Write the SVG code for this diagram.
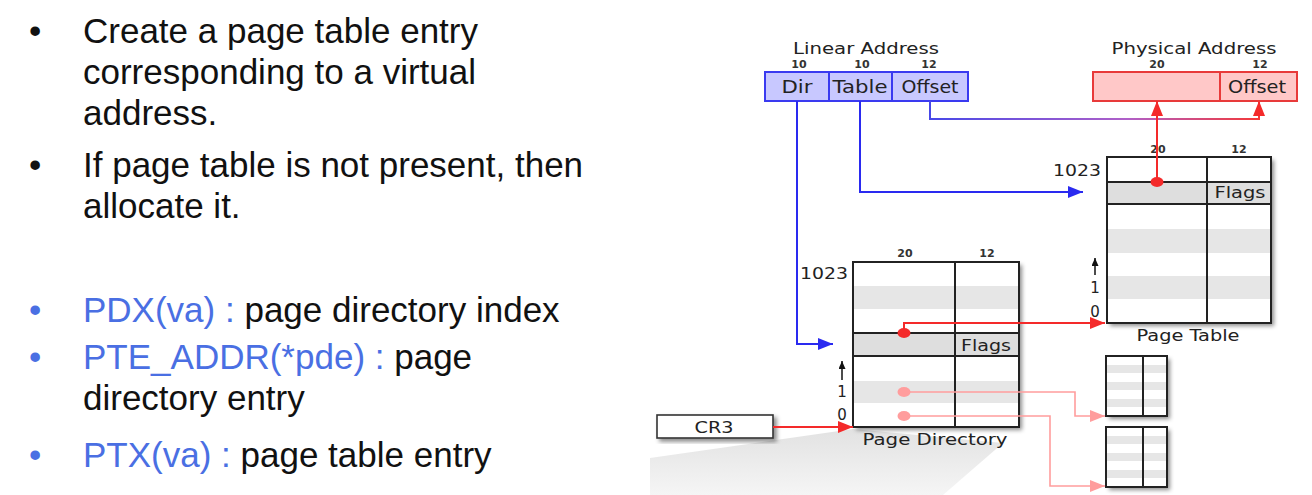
<svg xmlns="http://www.w3.org/2000/svg" width="1312" height="495" viewBox="0 0 1312 495">
<style>
.t{font-family:"Liberation Sans",Arial,sans-serif;font-size:35px;fill:#111}
.b{fill:#4a6fe3}
.d{font-family:"DejaVu Sans","Bitstream Vera Sans",sans-serif;fill:#222}
.n{font-size:11px;font-weight:bold;text-anchor:middle;fill:#333}
.l{font-size:18px;text-anchor:middle}
.m{font-size:16px;text-anchor:middle}
.k{font-size:15px}
.grid{fill:none;stroke:#222;stroke-width:2}
.band{fill:#e6e6e6}
.flag{fill:#dedede}
.blue{fill:none;stroke:#2a2af0;stroke-width:2}
.red{fill:none;stroke:#f42a2a;stroke-width:2}
.pink{fill:none;stroke:#ff9d9d;stroke-width:1.6}
</style>
<defs>
<filter id="sh" x="-15%" y="-15%" width="140%" height="140%">
<feDropShadow dx="3" dy="3" stdDeviation="2" flood-color="#000" flood-opacity="0.45"/>
</filter>
<linearGradient id="shade" x1="0" y1="0" x2="0" y2="1">
<stop offset="0" stop-color="#e2e2e2"/>
<stop offset="1" stop-color="#f5f5f5"/>
</linearGradient>
<linearGradient id="og" gradientUnits="userSpaceOnUse" x1="930" y1="0" x2="1259" y2="0">
<stop offset="0" stop-color="#4848e8"/>
<stop offset="0.6" stop-color="#b060c8"/>
<stop offset="1" stop-color="#f43838"/>
</linearGradient>
<marker id="ab" markerUnits="userSpaceOnUse" markerWidth="16" markerHeight="12" refX="15" refY="6" orient="auto"><path d="M0,0 L15,6 L0,12 z" fill="#2a2af0"/></marker>
<marker id="ar" markerUnits="userSpaceOnUse" markerWidth="16" markerHeight="12" refX="15" refY="6" orient="auto"><path d="M0,0 L15,6 L0,12 z" fill="#f42a2a"/></marker>
<marker id="ap" markerUnits="userSpaceOnUse" markerWidth="16" markerHeight="12" refX="15" refY="6" orient="auto"><path d="M0,0 L15,6 L0,12 z" fill="#ff9d9d"/></marker>
<marker id="ak" markerUnits="userSpaceOnUse" markerWidth="9" markerHeight="8" refX="8" refY="3.5" orient="auto"><path d="M0,0 L8,3.5 L0,7 z" fill="#111"/></marker>
</defs>
<rect width="1312" height="495" fill="#fff"/>

<g id="bullets">
<text class="t" x="29" y="43">•</text>
<text class="t" x="83" y="43">Create a page table entry</text>
<text class="t" x="83" y="84">corresponding to a virtual</text>
<text class="t" x="83" y="125">address.</text>
<text class="t" x="29" y="177">•</text>
<text class="t" x="83" y="177">If page table is not present, then</text>
<text class="t" x="83" y="218">allocate it.</text>
<text class="t b" x="29" y="322">•</text>
<text class="t" x="83" y="322"><tspan class="b">PDX(va) :</tspan> page directory index</text>
<text class="t b" x="29" y="369">•</text>
<text class="t" x="83" y="369"><tspan class="b">PTE_ADDR(*pde) :</tspan> page</text>
<text class="t" x="83" y="410">directory entry</text>
<text class="t b" x="29" y="467">•</text>
<text class="t" x="83" y="467"><tspan class="b">PTX(va) :</tspan> page table entry</text>
</g>

<polygon id="shadow-area" points="650,458 853,429 1003,443 943,495 650,495" fill="url(#shade)"/>

<g id="linear-address">
<text class="d k" x="866" y="54" text-anchor="middle" textLength="146" lengthAdjust="spacingAndGlyphs">Linear Address</text>
<text class="d n" x="799" y="68">10</text>
<text class="d n" x="862" y="68">10</text>
<text class="d n" x="929" y="68">12</text>
<rect x="765" y="72" width="203" height="29" fill="#c8c8ff" stroke="#3a3af0" stroke-width="2"/>
<line x1="829" y1="72" x2="829" y2="101" stroke="#3a3af0" stroke-width="2"/>
<line x1="892" y1="72" x2="892" y2="101" stroke="#3a3af0" stroke-width="2"/>
<text class="d l" x="797" y="93" textLength="31" lengthAdjust="spacingAndGlyphs">Dir</text>
<text class="d l" x="860" y="93" textLength="55" lengthAdjust="spacingAndGlyphs">Table</text>
<text class="d l" x="930" y="93" textLength="57" lengthAdjust="spacingAndGlyphs">Offset</text>
</g>

<g id="physical-address">
<text class="d k" x="1194" y="54" text-anchor="middle" textLength="165" lengthAdjust="spacingAndGlyphs">Physical Address</text>
<text class="d n" x="1157" y="68">20</text>
<text class="d n" x="1260" y="68">12</text>
<rect x="1093" y="72" width="204" height="29" fill="#ffc8c8" stroke="#e83a3a" stroke-width="2"/>
<line x1="1220" y1="72" x2="1220" y2="101" stroke="#e83a3a" stroke-width="2"/>
<text class="d l" x="1257" y="93" textLength="58" lengthAdjust="spacingAndGlyphs">Offset</text>
</g>

<g id="page-table">
<rect x="1107" y="157" width="164" height="166" fill="#fff" filter="url(#sh)"/>
<rect class="flag" x="1107" y="182" width="164" height="22"/>
<rect class="band" x="1108" y="229" width="162" height="24"/>
<rect class="band" x="1108" y="276" width="162" height="23"/>
<line x1="1207" y1="157" x2="1207" y2="323" stroke="#222" stroke-width="2"/>
<line x1="1107" y1="182" x2="1271" y2="182" stroke="#222" stroke-width="2"/>
<line x1="1107" y1="204" x2="1271" y2="204" stroke="#222" stroke-width="2"/>
<rect class="grid" x="1107" y="157" width="164" height="166"/>
<text class="d n" x="1158" y="153">20</text>
<text class="d n" x="1239" y="153">12</text>
<text class="d k" x="1101" y="176" text-anchor="end" textLength="48" lengthAdjust="spacingAndGlyphs">1023</text>
<text class="d m" x="1240" y="198" textLength="51" lengthAdjust="spacingAndGlyphs">Flags</text>
<text class="d k" x="1095" y="293" text-anchor="middle">1</text>
<text class="d k" x="1095" y="317" text-anchor="middle">0</text>
<text class="d m" x="1188" y="341" textLength="103" lengthAdjust="spacingAndGlyphs">Page Table</text>
</g>

<g id="page-directory">
<rect x="853" y="262" width="166" height="165" fill="#fff" filter="url(#sh)"/>
<rect class="band" x="854" y="286" width="164" height="23"/>
<rect class="flag" x="853" y="333" width="166" height="23"/>
<rect class="band" x="854" y="381" width="164" height="22"/>
<line x1="955" y1="262" x2="955" y2="427" stroke="#222" stroke-width="2"/>
<line x1="853" y1="333" x2="1019" y2="333" stroke="#222" stroke-width="2"/>
<line x1="853" y1="356" x2="1019" y2="356" stroke="#222" stroke-width="2"/>
<rect class="grid" x="853" y="262" width="166" height="165"/>
<text class="d n" x="905" y="257">20</text>
<text class="d n" x="987" y="257">12</text>
<text class="d k" x="848" y="279" text-anchor="end" textLength="48" lengthAdjust="spacingAndGlyphs">1023</text>
<text class="d m" x="986" y="351" textLength="50" lengthAdjust="spacingAndGlyphs">Flags</text>
<text class="d k" x="842" y="397" text-anchor="middle">1</text>
<text class="d k" x="842" y="420" text-anchor="middle">0</text>
<text class="d m" x="935" y="445" textLength="145" lengthAdjust="spacingAndGlyphs">Page Directory</text>
</g>

<g id="small-table-1">
<rect x="1106" y="356" width="61" height="60" fill="#fff" filter="url(#sh)"/>
<rect class="band" x="1107" y="365" width="59" height="8"/>
<rect class="band" x="1107" y="382" width="59" height="8"/>
<rect class="band" x="1107" y="399" width="59" height="8"/>
<line x1="1143" y1="356" x2="1143" y2="416" stroke="#222" stroke-width="2"/>
<rect class="grid" x="1106" y="356" width="61" height="60"/>
</g>

<g id="small-table-2">
<rect x="1106" y="427" width="61" height="60" fill="#fff" filter="url(#sh)"/>
<rect class="band" x="1107" y="436" width="59" height="8"/>
<rect class="band" x="1107" y="453" width="59" height="8"/>
<rect class="band" x="1107" y="470" width="59" height="8"/>
<line x1="1143" y1="427" x2="1143" y2="487" stroke="#222" stroke-width="2"/>
<rect class="grid" x="1106" y="427" width="61" height="60"/>
</g>

<g id="cr3">
<rect x="657" y="415" width="116" height="23" fill="#fff" stroke="#333" stroke-width="1.6" filter="url(#sh)"/>
<text class="d k" x="714" y="433" text-anchor="middle" textLength="39" lengthAdjust="spacingAndGlyphs">CR3</text>
</g>

<g id="connectors">
<path class="blue" d="M797,101 V344 H833" marker-end="url(#ab)"/>
<path class="blue" d="M860,101 V192 H1083" marker-end="url(#ab)"/>
<path d="M930,101 V119 H1259 V101" fill="none" stroke="url(#og)" stroke-width="2" marker-end="url(#ar)"/>
<path class="red" d="M1157,182 V101" marker-end="url(#ar)"/>
<path class="red" d="M904,333 V323 H1105" marker-end="url(#ar)"/>
<path class="red" d="M773,427 H853" marker-end="url(#ar)"/>
<path class="pink" d="M904,392 H1075 V416 H1105" marker-end="url(#ap)"/>
<path class="pink" d="M904,416 H1050 V486 H1105" marker-end="url(#ap)"/>
<path d="M842,380 V361" stroke="#111" stroke-width="1.5" marker-end="url(#ak)"/>
<path d="M1095,275 V258" stroke="#111" stroke-width="1.5" marker-end="url(#ak)"/>
<ellipse cx="1157" cy="182" rx="6.5" ry="5" fill="#f42a2a"/>
<ellipse cx="904" cy="333" rx="6.5" ry="5" fill="#f42a2a"/>
<ellipse cx="904" cy="392" rx="6.5" ry="5" fill="#ff9d9d"/>
<ellipse cx="904" cy="416" rx="6.5" ry="5" fill="#ff9d9d"/>
</g>
</svg>
